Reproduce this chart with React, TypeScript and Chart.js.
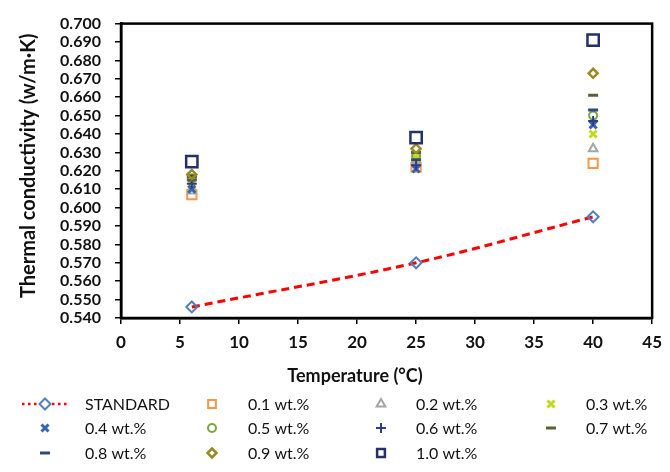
import React, { useEffect, useRef } from "react";
import { Chart, registerables } from "chart.js";

Chart.register(...registerables);

const temps = [6, 25, 40];
const standard = [0.546, 0.57, 0.595];
const wt01 = [0.607, 0.622, 0.624];
const wt02 = [0.609, 0.625, 0.632];
const wt03 = [0.612, 0.627, 0.64];
const wt04 = [0.61, 0.621, 0.645];
const wt05 = [0.616, 0.628, 0.65];
const wt06 = [0.613, 0.623, 0.647];
const wt07 = [0.615, 0.63, 0.661];
const wt08 = [0.617, 0.626, 0.653];
const wt09 = [0.618, 0.632, 0.673];
const wt10 = [0.625, 0.638, 0.691];

const seriesNames = ["STANDARD", "0.1 wt.%", "0.2 wt.%", "0.3 wt.%", "0.4 wt.%", "0.5 wt.%", "0.6 wt.%", "0.7 wt.%", "0.8 wt.%", "0.9 wt.%", "1.0 wt.%"];
const seriesValues = [standard, wt01, wt02, wt03, wt04, wt05, wt06, wt07, wt08, wt09, wt10];
const seriesColors = ["#4f81bd", "#f79646", "#a5a5a5", "#c4d81c", "#3a62b5", "#7aa63e", "#2e3a8c", "#5e5e36", "#2f4a7a", "#9a8a20", "#23306b"];
const seriesStyles = ["rectRot", "rect", "triangle", "crossRot", "crossRot", "circle", "cross", "line", "line", "rectRot", "rect"];
const seriesRadius = [5.5, 6.5, 5, 5, 5, 4, 5, 5, 5, 4.5, 8];
const seriesBorder = [2, 2, 2, 3, 3, 2, 2, 3, 3, 2.5, 2.5];

const xTicksMax = 45;
const yMin = 0.54;
const yMax = 0.7;

function drawMarker(ctx: CanvasRenderingContext2D, style: string, x: number, y: number, r: number, color: string, bw: number) {
  ctx.save();
  ctx.strokeStyle = color;
  ctx.fillStyle = "#fff";
  ctx.lineWidth = bw;
  ctx.beginPath();
  const s = Math.SQRT1_2 * r;
  if (style === "rect") {
    ctx.rect(x - s, y - s, 2 * s, 2 * s);
    ctx.fill();
    ctx.stroke();
  } else if (style === "rectRot") {
    ctx.moveTo(x, y - r);
    ctx.lineTo(x + r, y);
    ctx.lineTo(x, y + r);
    ctx.lineTo(x - r, y);
    ctx.closePath();
    ctx.fill();
    ctx.stroke();
  } else if (style === "circle") {
    ctx.arc(x, y, r, 0, Math.PI * 2);
    ctx.fill();
    ctx.stroke();
  } else if (style === "triangle") {
    const h = r * 1.5;
    ctx.moveTo(x, y - h * 0.66);
    ctx.lineTo(x + r * 0.87, y + h * 0.34);
    ctx.lineTo(x - r * 0.87, y + h * 0.34);
    ctx.closePath();
    ctx.fill();
    ctx.stroke();
  } else if (style === "crossRot") {
    ctx.moveTo(x - s, y - s);
    ctx.lineTo(x + s, y + s);
    ctx.moveTo(x + s, y - s);
    ctx.lineTo(x - s, y + s);
    ctx.stroke();
  } else if (style === "cross") {
    ctx.moveTo(x - r, y);
    ctx.lineTo(x + r, y);
    ctx.moveTo(x, y - r);
    ctx.lineTo(x, y + r);
    ctx.stroke();
  } else if (style === "line") {
    ctx.moveTo(x - r, y);
    ctx.lineTo(x + r, y);
    ctx.stroke();
  }
  ctx.restore();
}

const decorPlugin = {
  id: "decor",
  afterDraw(chart: any) {
    const { ctx, chartArea } = chart;
    ctx.save();
    ctx.strokeStyle = "#000";
    ctx.lineWidth = 2.5;
    ctx.strokeRect(chartArea.left, chartArea.top, chartArea.right - chartArea.left, chartArea.bottom - chartArea.top);

    ctx.fillStyle = "#111";
    ctx.textAlign = "center";
    ctx.textBaseline = "middle";
    ctx.font = "bold 20px Lato";
    ctx.save();
    ctx.translate(29, (chartArea.top + chartArea.bottom) / 2 - 5);
    ctx.rotate(-Math.PI / 2);
    ctx.fillText("Thermal conductivity (w/m·K)", 0, 0);
    ctx.restore();

    ctx.font = "bold 18px Lato";
    ctx.fillText("Temperature (°C)", 355, 376);

    const markerX = [45, 212, 381, 551];
    const textX = [85, 248, 416, 586];
    const rowY = [404, 428, 453];
    ctx.font = "16px Lato";
    ctx.textAlign = "left";
    seriesNames.forEach((name, i) => {
      const col = i % 4;
      const row = Math.floor(i / 4);
      const mx = markerX[col];
      const my = rowY[row];
      if (i === 0) {
        ctx.save();
        ctx.strokeStyle = "#ff0000";
        ctx.lineWidth = 2.5;
        ctx.setLineDash([2.5, 3.5]);
        ctx.beginPath();
        ctx.moveTo(22, my);
        ctx.lineTo(70, my);
        ctx.stroke();
        ctx.restore();
      }
      drawMarker(ctx, seriesStyles[i], mx, my, Math.min(seriesRadius[i], 5.5), seriesColors[i], seriesBorder[i]);
      ctx.fillStyle = "#111";
      ctx.fillText(name, textX[col], my + 1);
    });
    ctx.restore();
  },
};

export default function App() {
  const ref = useRef<HTMLCanvasElement | null>(null);
  useEffect(() => {
    if (!ref.current) return;
    const datasets = seriesNames.map((name, i) => ({
      label: name,
      data: temps.map((t, j) => ({ x: t, y: seriesValues[i][j] })),
      showLine: i === 0,
      borderColor: i === 0 ? "#ff0000" : seriesColors[i],
      borderWidth: i === 0 ? 3 : 0,
      borderDash: i === 0 ? [8, 5] : [],
      tension: 0.35,
      pointStyle: seriesStyles[i],
      pointRadius: seriesRadius[i],
      pointBorderColor: seriesColors[i],
      pointBackgroundColor: "rgba(255,255,255,0)",
      pointBorderWidth: seriesBorder[i],
      order: seriesNames.length - i,
    }));
    const chart = new Chart(ref.current, {
      type: "scatter",
      data: { datasets },
      options: {
        animation: false,
        responsive: true,
        maintainAspectRatio: false,
        layout: { padding: { top: 20, right: 13, bottom: 0, left: 0 } },
        plugins: { legend: { display: false }, tooltip: { enabled: false } },
        scales: {
          x: {
            type: "linear",
            min: 0,
            max: xTicksMax,
            ticks: { stepSize: 5, color: "#111", font: { family: "Lato", size: 17, weight: "bold" }, padding: 8 },
            grid: { drawOnChartArea: false, drawTicks: true, tickLength: 6, color: "#000", lineWidth: 1.5 },
            border: { color: "#000", width: 2.5 },
            afterFit: (s: any) => { s.height = 154; },
          },
          y: {
            type: "linear",
            min: yMin,
            max: yMax,
            ticks: {
              stepSize: 0.01,
              autoSkip: false,
              color: "#111",
              font: { family: "Lato", size: 16, weight: "bold" },
              padding: 14,
              callback: (v: any) => Number(v).toFixed(3),
            },
            grid: { drawOnChartArea: false, drawTicks: true, tickLength: 6, color: "#000", lineWidth: 1.5 },
            border: { color: "#000", width: 2.5 },
            afterFit: (s: any) => { s.width = 121; },
          },
        },
      },
      plugins: [decorPlugin],
    } as any);
    return () => chart.destroy();
  }, []);
  return (
    <div style={{ position: "absolute", left: 0, top: 0, width: 670, height: 472, background: "#fff" }}>
      <canvas ref={ref} />
    </div>
  );
}
